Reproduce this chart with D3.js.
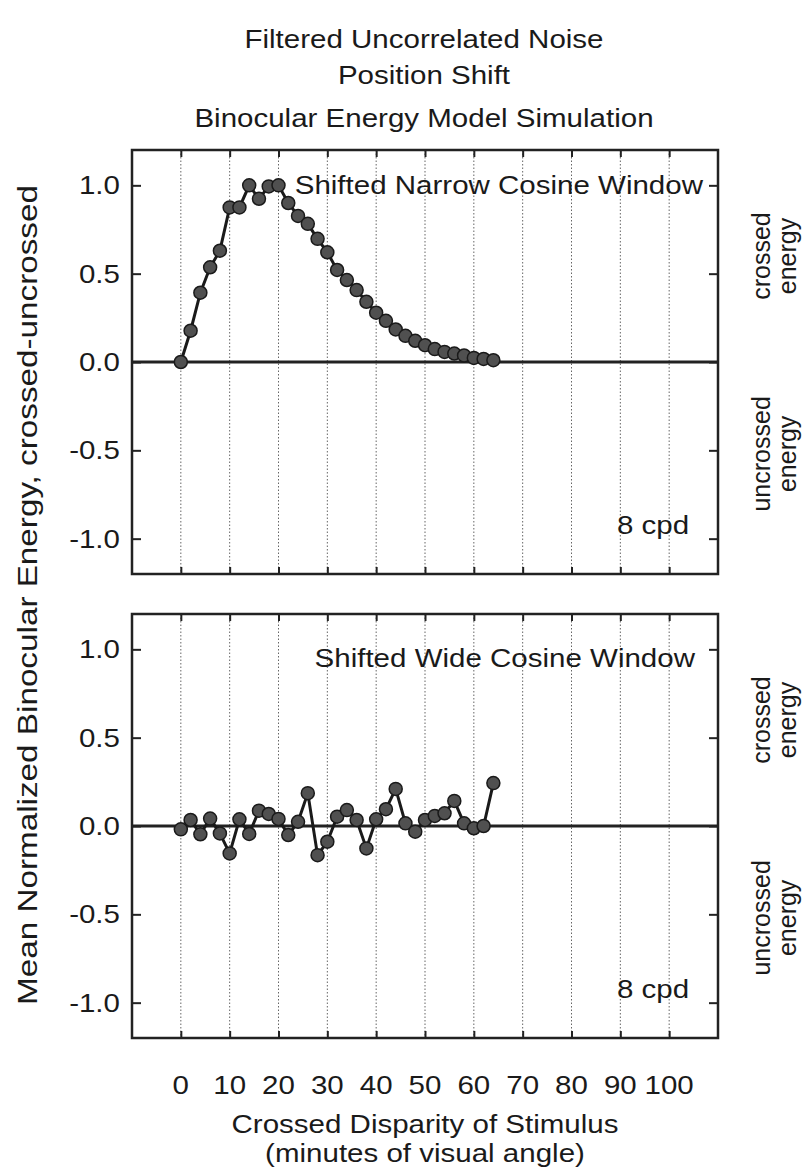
<!DOCTYPE html>
<html>
<head>
<meta charset="utf-8">
<script src="https://cdn.jsdelivr.net/npm/d3@7"></script>
<style>
  html, body { margin: 0; padding: 0; background: #fff; }
  svg text { font-family: "Liberation Sans", Arial, Helvetica, sans-serif; fill: #1a1a1a; }
</style>
</head>
<body>
<svg id="chart" width="805" height="1168"></svg>
<script>
// Crossed disparity of the stimulus (minutes of visual angle)
const disparity = [0, 2, 4, 6, 8, 10, 12, 14, 16, 18, 20, 22, 24, 26, 28, 30, 32,
                   34, 36, 38, 40, 42, 44, 46, 48, 50, 52, 54, 56, 58, 60, 62, 64];

// Mean normalized binocular energy (crossed - uncrossed), narrow cosine window
const narrowEnergy = [0.0, 0.177, 0.392, 0.536, 0.63, 0.875, 0.875, 1.0, 0.924, 0.994,
                      1.0, 0.90, 0.827, 0.782, 0.697, 0.621, 0.521, 0.464, 0.407, 0.341,
                      0.279, 0.233, 0.184, 0.148, 0.12, 0.095, 0.073, 0.057, 0.048, 0.037,
                      0.023, 0.017, 0.01];

// Same measure, wide cosine window
const wideEnergy = [-0.019, 0.034, -0.047, 0.042, -0.042, -0.155, 0.038, -0.045, 0.087, 0.068,
                    0.04, -0.051, 0.024, 0.186, -0.165, -0.089, 0.053, 0.09, 0.034, -0.127,
                    0.038, 0.095, 0.21, 0.015, -0.032, 0.034, 0.057, 0.072, 0.142, 0.015,
                    -0.013, 0.0, 0.243];

const xTicks = [0, 10, 20, 30, 40, 50, 60, 70, 80, 90, 100];
const yTicks = [-1.0, -0.5, 0.0, 0.5, 1.0];

const titleLines = ["Filtered Uncorrelated Noise", "Position Shift", "Binocular Energy Model Simulation"];
const panelLabels = ["Shifted Narrow Cosine Window", "Shifted Wide Cosine Window"];
const freqLabel = "8 cpd";
const yTitle = "Mean Normalized Binocular Energy, crossed-uncrossed";
const xTitleLines = ["Crossed Disparity of Stimulus", "(minutes of visual angle)"];

const svg = d3.select("#chart");
const FS = 25;      // font size
const WIDEN = 1.18; // horizontal text is set a little extended

// widen horizontal text while keeping its anchor
function widen(sel) {
  sel.each(function () {
    const L = this.getComputedTextLength();
    d3.select(this).attr("textLength", L * WIDEN).attr("lengthAdjust", "spacingAndGlyphs");
  });
  return sel;
}

const plotLeft = 132, plotRight = 718;
const panels = [
  { top: 150, bottom: 574, values: narrowEnergy, label: panelLabels[0], labelY: 1.0, labelX: 703 },
  { top: 614, bottom: 1038, values: wideEnergy, label: panelLabels[1], labelY: 0.95, labelX: 695 }
];

const x = d3.scaleLinear().domain([-10, 110]).range([plotLeft, plotRight]);

// Titles
svg.append("g").selectAll("text").data(titleLines).join("text")
  .attr("x", 424)
  .attr("y", (d, i) => [48, 84, 127][i])
  .attr("text-anchor", "middle")
  .style("font-size", FS + "px")
  .text(d => d)
  .call(widen);

panels.forEach(p => {
  const y = d3.scaleLinear().domain([-1.2, 1.2]).range([p.bottom, p.top]);
  const g = svg.append("g");

  // dotted verticals at each disparity tick
  g.append("g").selectAll("line").data(xTicks).join("line")
    .attr("x1", d => x(d)).attr("x2", d => x(d))
    .attr("y1", p.top).attr("y2", p.bottom)
    .attr("stroke", "#666").attr("stroke-width", 1)
    .attr("stroke-dasharray", "1.5,2");

  // zero reference line
  g.append("line")
    .attr("x1", plotLeft).attr("x2", plotRight)
    .attr("y1", y(0)).attr("y2", y(0))
    .attr("stroke", "#222").attr("stroke-width", 2.8);

  // axes with inward ticks
  const leftAxis = d3.axisRight(y).tickValues(yTicks).tickSize(9).tickFormat("");
  const rightAxis = d3.axisLeft(y).tickValues(yTicks).tickSize(9).tickFormat("");
  const topAxis = d3.axisBottom(x).tickValues(xTicks).tickSize(7).tickFormat("");
  const bottomAxis = d3.axisTop(x).tickValues(xTicks).tickSize(7).tickFormat("");

  [[leftAxis, `translate(${plotLeft},0)`], [rightAxis, `translate(${plotRight},0)`],
   [topAxis, `translate(0,${p.top})`], [bottomAxis, `translate(0,${p.bottom})`]].forEach(([ax, tr]) => {
    const a = g.append("g").attr("transform", tr).call(ax);
    a.select(".domain").remove();
    a.selectAll(".tick line").attr("stroke", "#222").attr("stroke-width", 2);
  });

  // frame
  g.append("rect")
    .attr("x", plotLeft).attr("y", p.top)
    .attr("width", plotRight - plotLeft).attr("height", p.bottom - p.top)
    .attr("fill", "none").attr("stroke", "#222").attr("stroke-width", 2.5);

  // y tick labels
  g.append("g").selectAll("text").data(yTicks).join("text")
    .attr("x", 120).attr("y", d => y(d))
    .attr("dy", "0.36em")
    .attr("text-anchor", "end")
    .style("font-size", FS + "px")
    .text(d => d3.format(".1f")(d).replace("−", "-"))
    .call(widen);

  // data line and markers
  const pts = disparity.map((d, i) => [d, p.values[i]]);
  g.append("path")
    .datum(pts)
    .attr("d", d3.line().x(d => x(d[0])).y(d => y(d[1])))
    .attr("fill", "none").attr("stroke", "#1a1a1a").attr("stroke-width", 3);
  g.append("g").selectAll("circle").data(pts).join("circle")
    .attr("cx", d => x(d[0])).attr("cy", d => y(d[1]))
    .attr("r", 6.5)
    .attr("fill", "#505050").attr("stroke", "#1a1a1a").attr("stroke-width", 1.5);

  // panel annotation
  g.append("text")
    .attr("x", p.labelX).attr("y", y(p.labelY) + 9)
    .attr("text-anchor", "end")
    .style("font-size", FS + "px")
    .text(p.label)
    .call(widen);

  g.append("text")
    .attr("x", 617).attr("y", y(-1.0) - 5)
    .style("font-size", FS + "px")
    .text(freqLabel)
    .call(widen);

  // right-hand side labels
  [["crossed", "energy", 0.6], ["uncrossed", "energy", -0.52]].forEach(([a, b, v]) => {
    const t = g.append("text")
      .attr("transform", `translate(771,${y(v)}) rotate(-90)`)
      .attr("text-anchor", "middle")
      .style("font-size", FS + "px");
    t.append("tspan").attr("x", 0).attr("dy", "-0.05em").text(a);
    t.append("tspan").attr("x", 0).attr("dy", "1.05em").text(b);
  });
});

// x tick labels (shared)
svg.append("g").selectAll("text").data(xTicks).join("text")
  .attr("x", d => x(d)).attr("y", 1094)
  .attr("text-anchor", "middle")
  .style("font-size", FS + "px")
  .text(d => d)
  .call(widen);

// x title
svg.append("g").selectAll("text").data(xTitleLines).join("text")
  .attr("x", 425).attr("y", (d, i) => [1133, 1162][i])
  .attr("text-anchor", "middle")
  .style("font-size", FS + "px")
  .text(d => d)
  .call(widen);

// y title
svg.append("text")
  .attr("transform", "translate(37,595) rotate(-90)")
  .attr("text-anchor", "middle")
  .attr("textLength", 820)
  .attr("lengthAdjust", "spacingAndGlyphs")
  .style("font-size", "27px")
  .text(yTitle);
</script>
</body>
</html>
